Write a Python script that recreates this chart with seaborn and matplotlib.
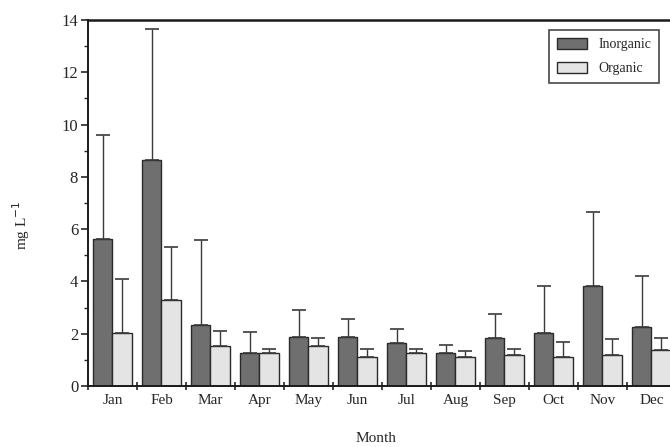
import numpy as np
import pandas as pd
import seaborn as sns
import matplotlib.pyplot as plt
from matplotlib.ticker import MultipleLocator, FixedLocator, NullFormatter

# Datos (media y desviación, mg/L)
months = ["Jan", "Feb", "Mar", "Apr", "May", "Jun",
          "Jul", "Aug", "Sep", "Oct", "Nov", "Dec"]
inorganic = [5.61, 8.64, 2.32, 1.28, 1.89, 1.89, 1.66, 1.25, 1.84, 2.04, 3.83, 2.24]
inorganic_sd = [4.00, 5.00, 3.28, 0.80, 1.03, 0.66, 0.53, 0.31, 0.90, 1.80, 2.83, 1.95]
organic = [2.04, 3.29, 1.53, 1.25, 1.53, 1.10, 1.25, 1.10, 1.17, 1.10, 1.20, 1.39]
organic_sd = [2.06, 2.03, 0.59, 0.15, 0.29, 0.30, 0.15, 0.25, 0.26, 0.58, 0.59, 0.46]

df = pd.DataFrame({
    "Month": months * 2,
    "Value": inorganic + organic,
    "SD": inorganic_sd + organic_sd,
    "Type": ["Inorganic"] * 12 + ["Organic"] * 12,
})

sns.set_style("ticks")
plt.rcParams["font.family"] = ["Liberation Serif", "DejaVu Serif"]

fig = plt.figure(figsize=(6.7, 4.47), dpi=100)
ax = fig.add_axes([0.1313, 0.1365, 0.8776, 0.8188])

sns.barplot(data=df, x="Month", y="Value", hue="Type", order=months,
            palette={"Inorganic": "#6f6f6f", "Organic": "#e4e4e4"},
            edgecolor="#2a2a2a", linewidth=1.0, width=0.8,
            errorbar=None, ax=ax)

# barras de error (solo hacia arriba)
for cont, tipo in zip(ax.containers, ["Inorganic", "Organic"]):
    sub = df[df["Type"] == tipo]
    xs = [p.get_x() + p.get_width() / 2 for p in cont.patches]
    ax.errorbar(xs, sub["Value"].values,
                yerr=[np.zeros(len(sub)), sub["SD"].values],
                fmt="none", ecolor="#3a3a3a", elinewidth=1.0,
                capsize=5, capthick=1.2, zorder=1)

ax.set_xlim(-0.5, 11.5)
ax.set_ylim(0, 14)

ax.yaxis.set_major_locator(MultipleLocator(2))
ax.yaxis.set_minor_locator(MultipleLocator(1))
ax.tick_params(axis="y", which="major", direction="out", length=5, width=1.2, labelsize=12, pad=2)
ax.tick_params(axis="y", which="minor", direction="out", length=3, width=1.0)

ax.xaxis.set_minor_locator(FixedLocator(np.arange(-0.5, 12, 1)))
ax.xaxis.set_minor_formatter(NullFormatter())
ax.tick_params(axis="x", which="major", length=0, labelsize=11, pad=6)
ax.tick_params(axis="x", which="minor", direction="inout", length=6, width=1.2)

for s in ["left", "bottom"]:
    ax.spines[s].set_linewidth(1.4)
    ax.spines[s].set_color("#1a1a1a")
ax.spines["top"].set_visible(True)
ax.spines["top"].set_linewidth(1.8)
ax.spines["top"].set_color("#1a1a1a")
ax.spines["right"].set_visible(True)
ax.spines["right"].set_linewidth(1.4)

ax.set_xlabel("Month", fontsize=11)
ax.set_ylabel("mg L$^{-1}$", fontsize=11)
ax.xaxis.set_label_coords(0.49, -0.125)
ax.yaxis.set_label_coords(-0.095, 0.44)

leg = ax.legend(loc="upper right", bbox_to_anchor=(0.971, 0.972), borderaxespad=0,
                fontsize=10, frameon=True, fancybox=False, edgecolor="#1a1a1a",
                handlelength=2.2, handleheight=0.9, borderpad=0.55, labelspacing=0.75)
leg.get_frame().set_linewidth(1.2)

fig.savefig("out.png", dpi=100)
